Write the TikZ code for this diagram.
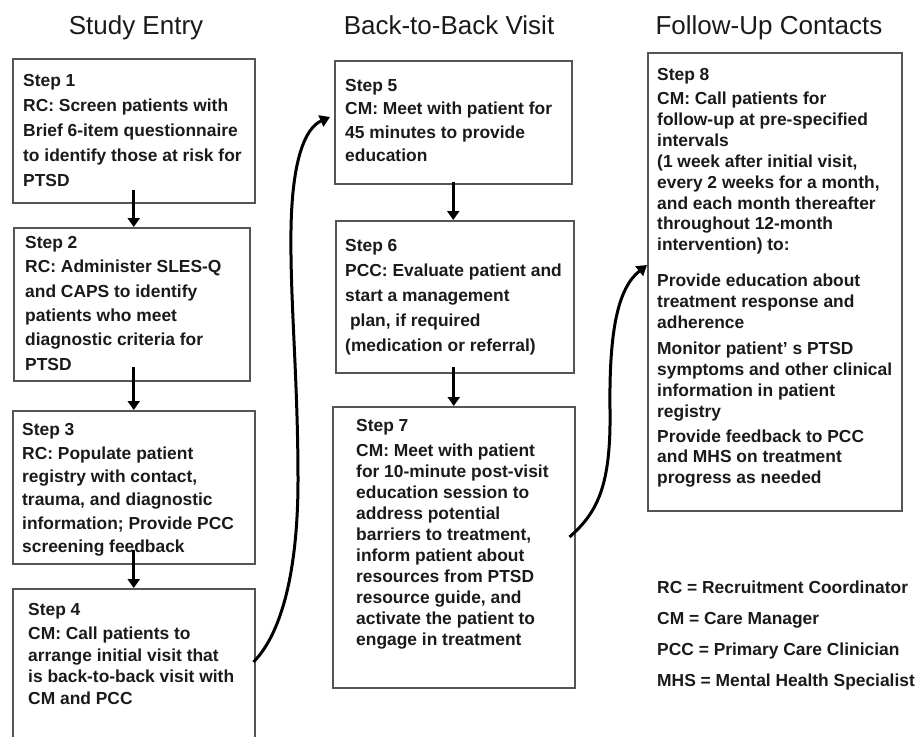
\documentclass[tikz,border=0pt]{standalone}
\usepackage{fontspec}
\setmainfont{Liberation Sans}
\usetikzlibrary{arrows.meta}
\definecolor{boxgray}{HTML}{555555}
\definecolor{inkblack}{HTML}{1A1A1A}
\tikzset{
  stepbox/.style={draw=boxgray, line width=1.5pt, anchor=north west, inner sep=0pt},
  steptext/.style={anchor=north west, align=left, inner sep=0pt, text=inkblack,
    font=\bfseries\fontsize{17.4}{#1}\selectfont},
  steptext/.default=21,
  heading/.style={anchor=base, text=inkblack, font=\fontsize{26}{30}\selectfont},
  flowarrow/.style={line width=2.8pt, -{Triangle[width=12pt,length=9pt]}},
  jumparrow/.style={line width=3pt, -{Triangle[width=12pt,length=10pt]}}
}

\begin{document}
\begin{tikzpicture}[x=1pt,y=-1pt]
  \useasboundingbox (0,0) rectangle (917,736);
  \clip (0,0) rectangle (917,736);

  % column headings
  \node[heading] (h1) at (136,34) {Study Entry};
  \node[heading] (h2) at (449,34) {Back-to-Back Visit};
  \node[heading] (h3) at (769,34) {Follow-Up Contacts};

  % boxes
  \node[stepbox, minimum width=242, minimum height=144] (s1) at (12,58) {};
  \node[stepbox, minimum width=236, minimum height=153] (s2) at (13,227) {};
  \node[stepbox, minimum width=242, minimum height=153] (s3) at (12,410) {};
  \node[stepbox, minimum width=242, minimum height=170] (s4) at (12,588) {};
  \node[stepbox, minimum width=237, minimum height=123] (s5) at (334,60) {};
  \node[stepbox, minimum width=238, minimum height=152] (s6) at (335,220) {};
  \node[stepbox, minimum width=242, minimum height=281] (s7) at (332,406) {};
  \node[stepbox, minimum width=254, minimum height=458] (s8) at (647,52) {};

  % texts
  \node[steptext=25] (t1) at (23,74.3) {Step 1\\RC: Screen patients with\\Brief 6-item questionnaire\\to identify those at risk for\\PTSD};
  \node[steptext=24.3] (t2) at (25,236.3) {Step 2\\RC: Administer SLES-Q\\and CAPS to identify\\patients who meet\\diagnostic criteria for\\PTSD};
  \node[steptext=23.4] (t3) at (22,423.3) {Step 3\\RC: Populate patient\\registry with contact,\\trauma, and diagnostic\\information; Provide PCC\\screening feedback};
  \node[steptext=21.5] (t4) at (28,603.3) {Step 4\\[2.5pt]CM: Call patients to\\arrange initial visit that\\is back-to-back visit with\\CM and PCC};
  \node[steptext=23.3] (t5) at (345,79.3) {Step 5\\CM: Meet with patient for\\45 minutes to provide\\education};
  \node[steptext=25] (t6) at (345,239.3) {Step 6\\PCC: Evaluate patient and\\start a management\\\ plan, if required\\(medication or referral)};
  \node[steptext=21] (t7) at (356,419.3) {Step 7\\[4pt]CM: Meet with patient\\for 10-minute post-visit\\education session to\\address potential\\barriers to treatment,\\inform patient about\\resources from PTSD\\resource guide, and\\activate the patient to\\engage in treatment};
  \node[steptext=20.9] (t8) at (657,68.3) {Step 8\\[3pt]CM: Call patients for\\follow-up at pre-specified\\intervals\\(1 week after initial visit,\\every 2 weeks for a month,\\and each month thereafter\\throughout 12-month\\intervention) to:\\[15pt]Provide education about\\treatment response and\\adherence\\[5pt]Monitor patient’ s PTSD\\symptoms and other clinical\\information in patient\\registry\\[4pt]Provide feedback to PCC\\and MHS on treatment\\progress as needed};

  % legend
  \node[steptext=31] (key) at (657,580.3) {RC = Recruitment Coordinator\\CM = Care Manager\\PCC = Primary Care Clinician\\MHS = Mental Health Specialist};

  % straight arrows
  \draw[flowarrow] ([yshift=14pt]s1.south) -- (s1.south |- s2.north);
  \draw[flowarrow] ([yshift=15pt]s2.south -| s3.north) -- (s3.north);
  \draw[flowarrow] ([yshift=15pt]s3.south) -- (s4.north);
  \draw[flowarrow] ([yshift=3pt]s5.south) -- (s5.south |- s6.north);
  \draw[flowarrow] ([yshift=7pt]s6.south -| s7.north) -- (s7.north);

  % curved arrows between columns
  \draw[jumparrow] ([xshift=-2pt,yshift=-74pt]s4.north east)
    .. controls (285,630) and (298,560) .. (298,480)
    .. controls (298,380) and (290,300) .. (291,230)
    .. controls (292,160) and (305,128) .. ([xshift=-4pt,yshift=-57pt]s5.north west);
  \draw[jumparrow] ([xshift=-6pt,yshift=-131pt]s7.north east)
    .. controls (598,512) and (611,485) .. (610,410)
    .. controls (609,330) and (618,288) .. ([yshift=-213pt]s8.north west);
\end{tikzpicture}
\end{document}
